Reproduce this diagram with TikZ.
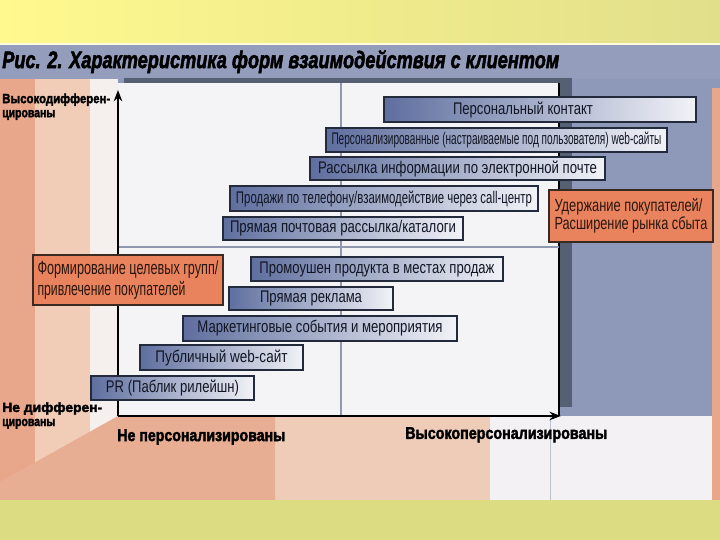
\documentclass[tikz,border=0pt]{standalone}
\usepackage{fontspec}
\usepackage{graphicx}
\usetikzlibrary{arrows.meta}
\setmainfont{Liberation Sans}
\newfontfamily\barfont{Liberation Sans}
\newfontfamily\headfont[FakeBold=2.5]{Liberation Sans}
\newcommand{\fitw}[2]{\resizebox{#1}{\height}{#2}}

\definecolor{topyellowL}{HTML}{FFF98E}
\definecolor{topyellowR}{HTML}{E1DF8A}
\definecolor{bottomgreen}{HTML}{DCDC82}
\definecolor{panelblue}{HTML}{8E98B9}
\definecolor{titleblue}{HTML}{959DBD}
\definecolor{salmon}{HTML}{E8A78B}
\definecolor{peach}{HTML}{F1CDB8}
\definecolor{paleback}{HTML}{F5EFEE}
\definecolor{bottomsalmon}{HTML}{E8AE94}
\definecolor{bottompeach}{HTML}{EFCCB8}
\definecolor{bottomwhite}{HTML}{F3F1F4}
\definecolor{plotwhite}{HTML}{F4F3F6}
\definecolor{frameshade}{HTML}{566075}
\definecolor{gridgrey}{HTML}{8F98AE}
\definecolor{barblue}{HTML}{5E6E9E}
\definecolor{barwhite}{HTML}{F2F3F8}
\definecolor{barline}{HTML}{232A3C}
\definecolor{bartext}{HTML}{121624}
\definecolor{goalfill}{HTML}{E8835D}
\definecolor{goalline}{HTML}{3A2A22}
\definecolor{goaltext}{HTML}{2A160E}

\tikzset{
  bar/.style={draw=barline, line width=0.9pt, left color=barblue, right color=barwhite,
    inner sep=0pt, text=bartext, font=\barfont\fontsize{12}{14}\selectfont},
  goal/.style={draw=goalline, line width=0.9pt, fill=goalfill, inner sep=0pt, align=left,
    text=goaltext, font=\barfont\fontsize{12.5}{13}\selectfont},
  axislabel/.style={inner sep=0pt, align=left, font=\headfont\bfseries},
  axis/.style={line width=1.4pt, -{Stealth[length=8pt,width=6pt]}},
  grid/.style={draw=gridgrey, line width=1.1pt}
}

\begin{document}
\begin{tikzpicture}
\useasboundingbox (0,0) rectangle (18 cm,13.5 cm);
% background
\shade[left color=topyellowL, right color=topyellowR] (0,12.4 cm) rectangle (18 cm,13.5 cm);
\fill[bottomgreen] (0,0) rectangle (18 cm,1 cm);
\fill[panelblue] (0,1 cm) rectangle (18 cm,12.4 cm);
\fill[titleblue] (0,11.525 cm) rectangle (18 cm,12.4 cm);
\draw[white!70!topyellowL, line width=0.8pt] (0,12.4 cm) -- (18 cm,12.4 cm);
\fill[salmon] (17.8 cm,1 cm) rectangle (18 cm,11.3 cm);
\fill[salmon] (0,1 cm) rectangle (0.875 cm,11.525 cm);
\fill[peach] (0.875 cm,1 cm) rectangle (2.25 cm,11.525 cm);
\fill[paleback] (2.25 cm,1 cm) rectangle (2.95 cm,11.525 cm);
\fill[bottomwhite] (2.95 cm,1 cm) rectangle (17.8 cm,3.1 cm);
\fill[bottompeach] (6.875 cm,1 cm) rectangle (12.25 cm,3.1 cm);
\fill[bottomsalmon] (0,1.45 cm) -- (2.95 cm,3.1 cm) -- (6.875 cm,3.1 cm) -- (6.875 cm,1 cm) -- (0,1 cm) -- cycle;
\draw[gridgrey!60, line width=0.6pt] (13.75 cm,1 cm) -- (13.75 cm,3.1 cm);

% plot frame
\fill[frameshade] (3.1 cm,3.325 cm) rectangle (14.3 cm,11.55 cm);
\fill[plotwhite] (2.95 cm,3.1 cm) rectangle (13.975 cm,11.425 cm);
\draw[line width=1pt] (13.975 cm,3.1 cm) -- (13.975 cm,11.425 cm);
\draw[grid] (8.525 cm,3.1 cm) -- (8.525 cm,11.425 cm);
\draw[grid] (2.95 cm,7.325 cm) -- (13.975 cm,7.325 cm);

% axes
\coordinate (origin) at (2.95 cm,3.1 cm);
\coordinate (ytop) at (2.95 cm,11.25 cm);
\coordinate (xend) at (14.02 cm,3.1 cm);
\draw[axis] (origin) -- (ytop);
\draw[axis] (origin) -- (xend);

% title
\node[inner sep=0pt, anchor=west, font=\headfont\bfseries\itshape\fontsize{17}{20}\selectfont] (title) at (0.05 cm,11.96 cm)
  {\fitw{13.925cm}{Рис. 2. Характеристика форм взаимодействия с клиентом}};

% axis labels
\node[axislabel, anchor=north west, font=\headfont\bfseries\fontsize{9.5}{10}\selectfont] (highdiff) at (0.05 cm,11.17 cm)
  {\fitw{2.7cm}{Высокодифферен-}\\\fitw{1.325cm}{цированы}};
\node[axislabel, anchor=north west, font=\headfont\bfseries\fontsize{9.5}{10}\selectfont] (nodiff) at (0.05 cm,3.45 cm)
  {\fitw{2.5cm}{Не дифферен-}\\\fitw{1.325cm}{цированы}};
\node[axislabel, anchor=west, font=\headfont\bfseries\fontsize{12}{14}\selectfont] (nopers) at (2.925 cm,2.575 cm)
  {\fitw{4.2cm}{Не персонализированы}};
\node[axislabel, anchor=west, font=\headfont\bfseries\fontsize{12}{14}\selectfont] (highpers) at (10.125 cm,2.63 cm)
  {\fitw{5.05cm}{Высокоперсонализированы}};

% forms of interaction
\node[bar, minimum width=7.8 cm, minimum height=0.625 cm] (contact) at (13.5 cm,10.7625 cm) {\hspace*{-0.85cm}\fitw{3.5cm}{Персональный контакт}};
\node[bar, minimum width=8.525 cm, minimum height=0.6 cm] (websites) at (12.4125 cm,10 cm) {\fitw{8.25cm}{Персонализированные (настраиваемые под пользователя) web-сайты}};
\node[bar, minimum width=7.375 cm, minimum height=0.575 cm] (email) at (11.4375 cm,9.2875 cm) {\fitw{6.975cm}{Рассылка информации по электронной почте}};
\node[bar, minimum width=7.7 cm, minimum height=0.625 cm] (callcenter) at (9.6 cm,8.5375 cm) {\fitw{7.4cm}{Продажи по телефону/взаимодействие через call-центр}};
\node[bar, minimum width=6 cm, minimum height=0.575 cm] (directmail) at (8.575 cm,7.7875 cm) {\fitw{5.65cm}{Прямая почтовая рассылка/каталоги}};
\node[bar, minimum width=6.3 cm, minimum height=0.6 cm] (promo) at (9.425 cm,6.775 cm) {\fitw{5.875cm}{Промоушен продукта в местах продаж}};
\node[bar, minimum width=4.1 cm, minimum height=0.575 cm] (directad) at (7.775 cm,6.0375 cm) {\fitw{2.55cm}{Прямая реклама}};
\node[bar, minimum width=6.85 cm, minimum height=0.625 cm] (events) at (8 cm,5.2875 cm) {\fitw{6.125cm}{Маркетинговые события и мероприятия}};
\node[bar, minimum width=4.075 cm, minimum height=0.625 cm] (publicweb) at (5.5375 cm,4.5625 cm) {\fitw{3.3cm}{Публичный web-сайт}};
\node[bar, minimum width=4.075 cm, minimum height=0.6 cm] (pr) at (4.3125 cm,3.8 cm) {\fitw{3.325cm}{PR (Паблик рилейшн)}};

% goals
\node[goal, minimum width=4.1 cm, minimum height=1.3 cm] (retain) at (15.775 cm,8.1 cm)
  {\fitw{3.7cm}{Удержание покупателей/}\\\fitw{3.825cm}{Расширение рынка сбыта}};
\node[goal, minimum width=4.75 cm, minimum height=1.25 cm, font=\barfont\fontsize{13.5}{14.5}\selectfont] (attract) at (3.2 cm,6.5 cm)
  {\fitw{4.525cm}{Формирование целевых групп/}\\\fitw{3.7cm}{привлечение покупателей}};
\end{tikzpicture}
\end{document}
